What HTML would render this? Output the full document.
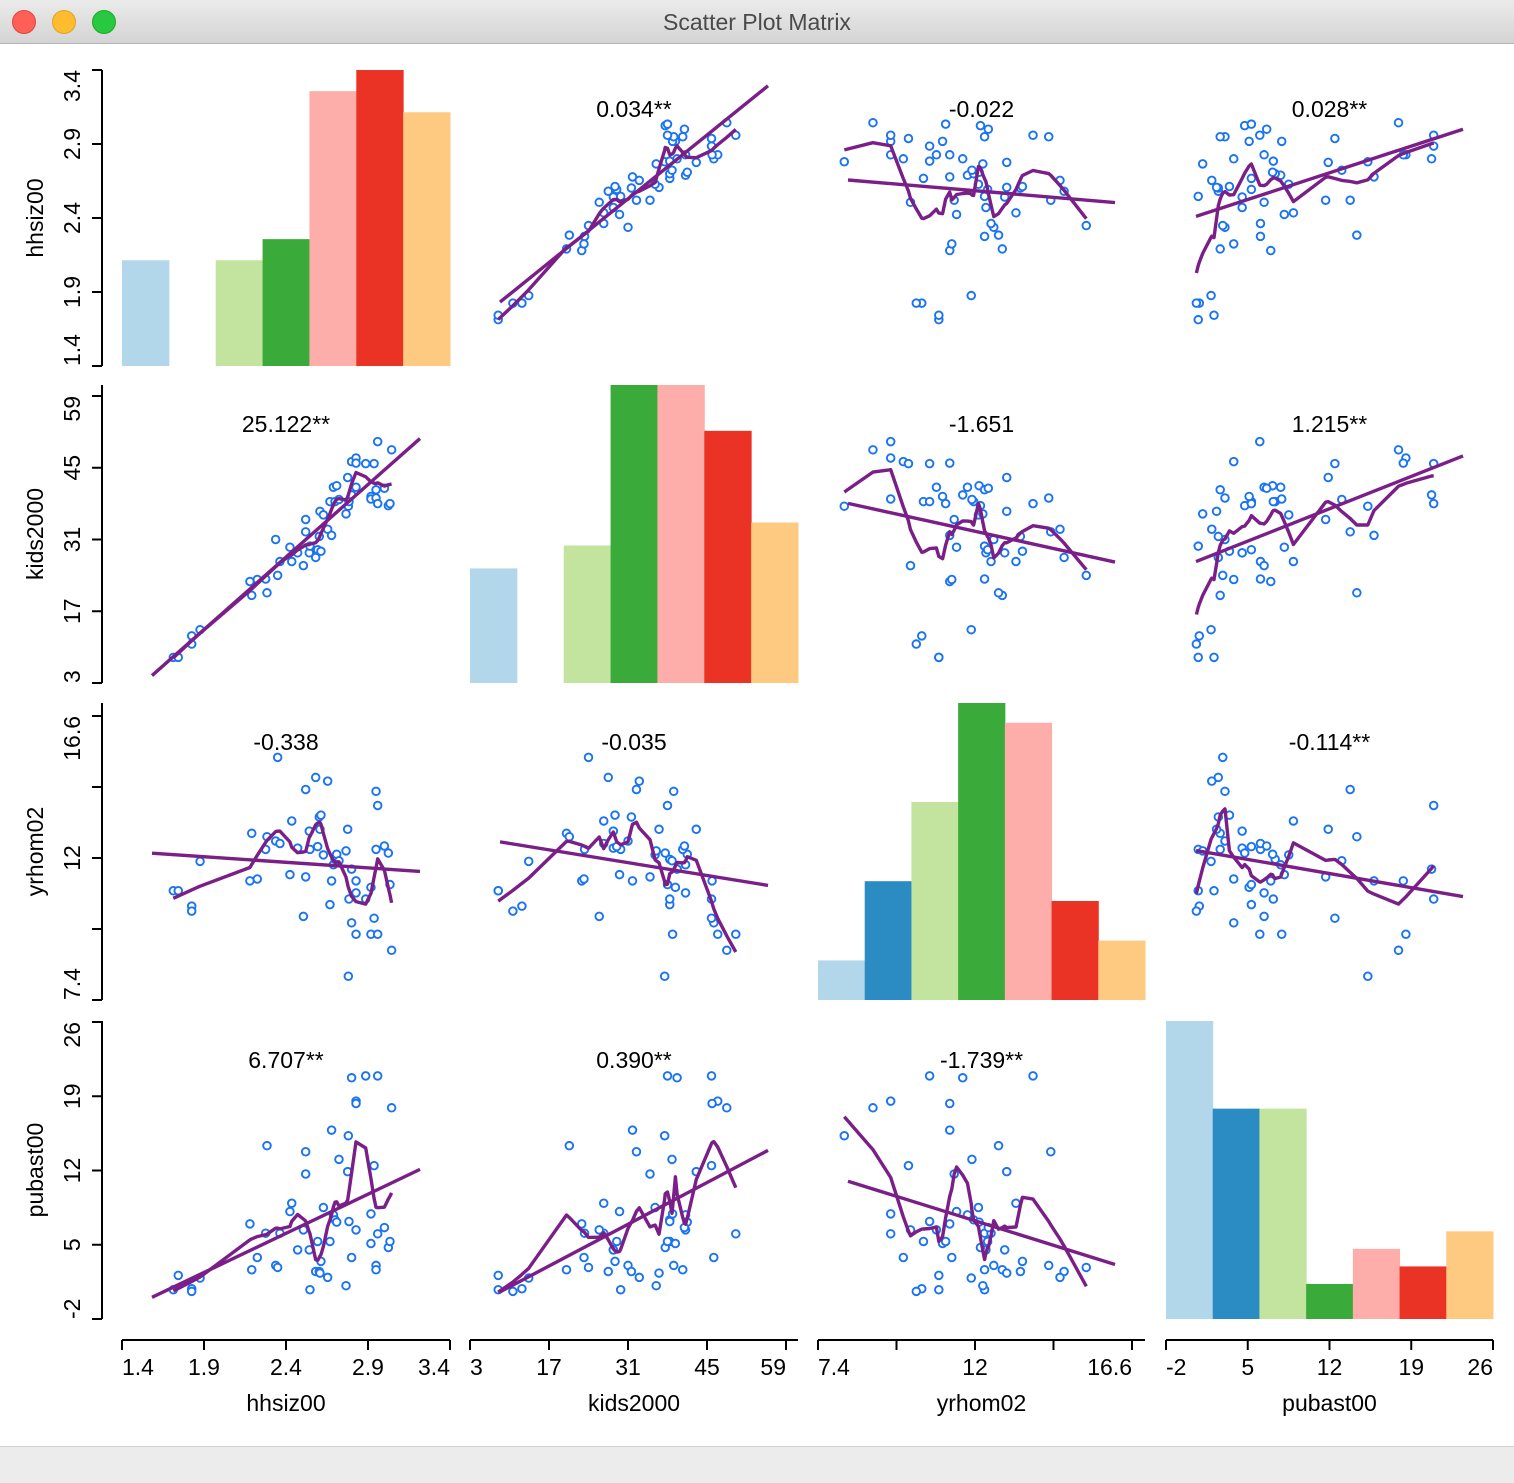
<!DOCTYPE html>
<html><head><meta charset="utf-8"><title>Scatter Plot Matrix</title>
<style>
html,body{margin:0;padding:0;background:#fff;}
body{width:1514px;height:1482px;overflow:hidden;position:relative;font-family:"Liberation Sans",sans-serif;}
#titlebar{position:absolute;left:0;top:0;width:1514px;height:43px;background:linear-gradient(#ebebeb,#d4d4d4);border-bottom:1px solid #b4b4b4;}
#titlebar .t{position:absolute;left:0;width:1514px;top:9px;text-align:center;font-size:23px;color:#4a4a4a;}
.btn{position:absolute;top:10px;width:24px;height:24px;border-radius:50%;}
#bottombar{position:absolute;left:0;top:1446px;width:1514px;height:36px;background:#ececec;border-top:1px solid #cfcfcf;}
svg{position:absolute;left:0;top:0;}
</style></head><body>
<div id="titlebar">
  <div class="btn" style="left:12px;background:#fe5f57;border:1px solid #e0443e;box-sizing:border-box"></div>
  <div class="btn" style="left:52px;background:#febc2e;border:1px solid #dea123;box-sizing:border-box"></div>
  <div class="btn" style="left:92px;background:#28c840;border:1px solid #1aab29;box-sizing:border-box"></div>
  <div class="t">Scatter Plot Matrix</div>
</div>
<div id="bottombar"></div>
<svg id="chart" width="1514" height="1446"></svg>
<script>
const hhsiz=[1.713,1.743,1.825,1.825,1.876,2.180,2.191,2.225,2.276,2.284,2.337,2.349,2.363,2.424,2.435,2.471,2.506,2.520,2.520,2.542,2.546,2.581,2.593,2.603,2.613,2.607,2.628,2.654,2.668,2.678,2.689,2.699,2.709,2.723,2.766,2.776,2.780,2.784,2.800,2.800,2.827,2.827,2.827,2.886,2.918,2.918,2.937,2.949,2.949,2.959,2.959,3.000,3.024,3.034,3.044];
const kids=[8.0,8.0,12.2,10.6,13.4,22.8,20.1,23.2,23.3,20.6,31.0,24.0,26.7,29.5,26.7,28.4,25.9,32.5,34.9,28.4,29.7,27.5,29.0,31.6,28.7,36.5,35.8,33.0,38.4,31.8,41.2,38.4,41.5,38.8,36.0,43.1,37.5,38.4,46.2,39.7,46.9,45.9,41.2,45.8,39.4,38.9,45.8,39.1,40.7,38.0,50.1,41.0,37.6,38.0,48.5];
const yrhom=[10.94,10.94,10.44,10.28,11.89,11.26,12.80,11.32,12.28,12.69,12.55,15.26,12.47,11.46,13.20,12.32,10.11,14.22,11.39,12.87,12.28,14.61,12.37,13.33,13.39,12.93,12.10,14.49,10.49,11.26,11.78,11.96,12.12,11.91,12.23,12.93,8.17,10.67,9.90,11.64,9.53,11.26,10.87,10.67,11.05,9.53,10.05,14.16,12.28,13.70,9.53,12.39,12.16,11.14,9.01];
const pubast=[0.76,2.11,0.85,0.60,1.86,6.97,2.64,3.80,6.09,14.34,3.05,2.86,6.09,8.13,8.91,4.52,6.40,13.77,11.67,4.52,0.76,2.48,5.31,2.48,3.43,2.33,8.51,1.92,5.31,15.81,7.82,7.35,7.13,13.05,1.14,11.89,15.28,7.19,3.80,20.74,18.54,18.32,6.40,20.92,5.12,7.91,12.46,3.05,2.64,20.92,6.03,6.62,4.74,5.31,17.91];
const varNames=["hhsiz00","kids2000","yrhom02","pubast00"];
const axisMin=[1.4,3,7.4,-2];
const axisMax=[3.4,59,16.6,26];
const tickLabels=[["1.4","1.9","2.4","2.9","3.4"],["3","17","31","45","59"],["7.4","","12","","16.6"],["-2","5","12","19","26"]];
const histCounts=[[5,0,5,6,13,14,12],[5,0,6,13,13,11,7],[2,6,10,15,14,5,3],[17,12,12,2,4,3,5]];
const corrLabels=[["","0.034**","-0.022","0.028**"],["25.122**","","-1.651","1.215**"],["-0.338","-0.035","","-0.114**"],["6.707**","0.390**","-1.739**",""]];

const data=[hhsiz,kids,yrhom,pubast];
const colT0=[122,470,818,1166], colT1=[450,786,1132,1493], colR=[450,798,1145,1493];
const rowT0=[366,683,1000,1319], rowT1=[70,396,716,1022], rowTop=[70,385,703,1021];
const histColors=["#b3d7ea","#2b8cc4","#c2e49f","#3aaa3a","#fdaeab","#ea3324","#fec981"];
const NS="http://www.w3.org/2000/svg";
const svg=document.getElementById('chart');
function mk(tag,attrs,parent){const e=document.createElementNS(NS,tag);for(const k in attrs)e.setAttribute(k,attrs[k]);(parent||svg).appendChild(e);return e;}
function xScale(c,v){return colT0[c]+(v-axisMin[c])/(axisMax[c]-axisMin[c])*(colT1[c]-colT0[c]);}
function yScale(r,v){return rowT0[r]-(v-axisMin[r])/(axisMax[r]-axisMin[r])*(rowT0[r]-rowT1[r]);}
function lowess(xs,ys,f){
  const idx=xs.map((_,i)=>i).sort((a,b)=>xs[a]-xs[b]);
  const X=idx.map(i=>xs[i]),Y=idx.map(i=>ys[i]);const n=X.length;const k=Math.max(3,Math.ceil(f*n));
  const out=[];
  for(let i=0;i<n;i++){
    const d=X.map(x=>Math.abs(x-X[i]));const h=Math.max(d.slice().sort((a,b)=>a-b)[k-1],1e-9)*1.0001;
    let sw=0,sx=0,sy=0,sxx=0,sxy=0;
    for(let j=0;j<n;j++){const u=d[j]/h;if(u>=1)continue;const w=Math.pow(1-u*u*u,3);sw+=w;sx+=w*X[j];sy+=w*Y[j];sxx+=w*X[j]*X[j];sxy+=w*X[j]*Y[j];}
    const mx=sx/sw,my=sy/sw,vx=sxx/sw-mx*mx;const b=vx>1e-12?(sxy/sw-mx*my)/vx:0;
    out.push([X[i],my+b*(X[i]-mx)]);
  }
  return out;
}
const defs=mk('defs',{});
for(let r=0;r<4;r++)for(let c=0;c<4;c++){
  const cp=mk('clipPath',{id:'cp'+r+'_'+c},defs);
  mk('rect',{x:colT0[c],y:rowTop[r]-2,width:colR[c]-colT0[c],height:rowT0[r]-rowTop[r]+4},cp);
}
for(let r=0;r<4;r++){
  const g=mk('g',{});
  
  
  mk('line',{x1:102,x2:102,y1:Math.min(rowTop[r],rowT1[r]),y2:rowT0[r],stroke:'#000','stroke-width':2},g);
  for(let t=0;t<5;t++){
    const y=rowT0[r]+(rowT1[r]-rowT0[r])*t/4;
    mk('line',{x1:92,x2:102,y1:y,y2:y,stroke:'#000','stroke-width':2},g);
    if(tickLabels[r][t]){
      const tx=mk('text',{transform:'translate(72,'+y+') rotate(-90)','text-anchor':t==0?'start':(t==4?'end':'middle'),'dominant-baseline':'central','font-size':23,fill:'#000'},g);
      tx.textContent=tickLabels[r][t];
    }
  }
  const tt=mk('text',{transform:'translate(35,'+((rowTop[r]+rowT0[r])/2)+') rotate(-90)','text-anchor':'middle','dominant-baseline':'central','font-size':23,fill:'#000'},g);
  
  
  tt.textContent=varNames[r];
}
for(let c=0;c<4;c++){
  const g=mk('g',{});
  
  
  mk('line',{x1:colT0[c],x2:colR[c],y1:1340,y2:1340,stroke:'#000','stroke-width':2},g);
  for(let t=0;t<5;t++){
    const x=colT0[c]+(colT1[c]-colT0[c])*t/4;
    mk('line',{x1:x,x2:x,y1:1340,y2:1350,stroke:'#000','stroke-width':2},g);
    if(tickLabels[c][t]){
      const tx=mk('text',{x:x,y:1375,'text-anchor':t==0?'start':(t==4?'end':'middle'),'font-size':23,fill:'#000'},g);
      tx.textContent=tickLabels[c][t];
    }
  }
  const tt=mk('text',{x:(colT0[c]+colR[c])/2,y:1411,'text-anchor':'middle','font-size':23,fill:'#000'},g);
  
  
  tt.textContent=varNames[c];
}
for(let r=0;r<4;r++)for(let c=0;c<4;c++){
  const g=mk('g',{});
  if(r===c){
    
    
    const counts=histCounts[r];const mx=Math.max(...counts);
    const bw=(colR[c]-colT0[c])/counts.length;const H=rowT0[r]-rowTop[r];
    counts.forEach((v,i)=>{
      if(v<=0)return;
      const h=v/mx*H;
      const b=mk('rect',{x:colT0[c]+i*bw,y:rowT0[r]-h,width:bw+0.5,height:h,fill:histColors[i]},g);
      
      
    });
    continue;
  }
  
  
  const xs=data[c],ys=data[r];
  const inner=mk('g',{'clip-path':'url(#cp'+r+'_'+c+')'},g);
  for(let i=0;i<xs.length;i++){
    const p=mk('circle',{cx:xScale(c,xs[i]),cy:yScale(r,ys[i]),r:3.8,fill:'#fff',stroke:'#1a73f0','stroke-width':1.9},inner);
    
    
  }
  const n=xs.length;let mx=0,my=0;for(let i=0;i<n;i++){mx+=xs[i];my+=ys[i];}mx/=n;my/=n;
  let sxy=0,sxx=0;for(let i=0;i<n;i++){sxy+=(xs[i]-mx)*(ys[i]-my);sxx+=(xs[i]-mx)*(xs[i]-mx);}
  const slope=sxy/sxx;
  const toV=px=>axisMin[c]+(px-colT0[c])/(colT1[c]-colT0[c])*(axisMax[c]-axisMin[c]);
  const xa=toV(colT0[c]+30),xb=toV(colR[c]-30);
  const rl=mk('line',{x1:xScale(c,xa),y1:yScale(r,my+slope*(xa-mx)),x2:xScale(c,xb),y2:yScale(r,my+slope*(xb-mx)),stroke:'#7a1f87','stroke-width':3.4},inner);
  
  
  const lw=lowess(xs,ys,0.2);
  const lp=mk('path',{d:lw.map((p,i)=>(i?'L':'M')+xScale(c,p[0]).toFixed(1)+','+yScale(r,p[1]).toFixed(1)).join(''),fill:'none',stroke:'#7a1f87','stroke-width':3.4,'stroke-linejoin':'round'},inner);
  
  
  const lab=mk('text',{x:(colT0[c]+colR[c])/2,y:rowTop[r]+47,'text-anchor':'middle','font-size':23,fill:'#000'},g);
  
  
  lab.textContent=corrLabels[r][c];
}
</script>
</body></html>
